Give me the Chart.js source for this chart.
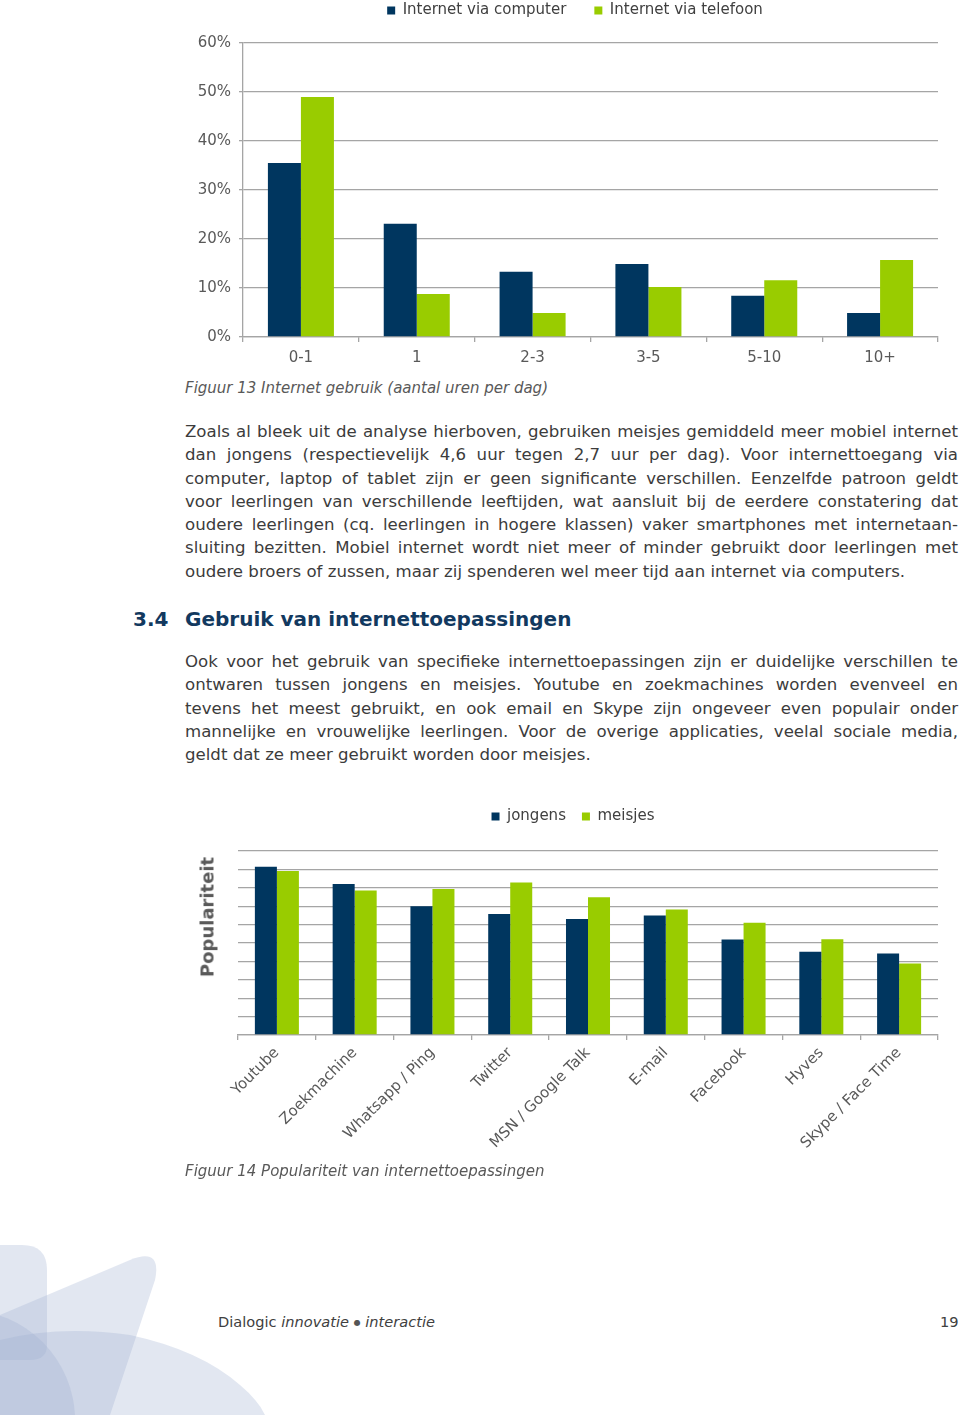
<!DOCTYPE html>
<html>
<head>
<meta charset="utf-8">
<script src="https://cdn.jsdelivr.net/npm/chart.js@4.4.0/dist/chart.umd.min.js"></script>
<style>
  body { margin: 0; background: #fff; }
  #page { position: relative; width: 960px; height: 1415px; overflow: hidden; font-family: "DejaVu Sans", Verdana, sans-serif; color: #3c3c3c; }
  .abs { position: absolute; }
  .para { position: absolute; left: 185px; width: 773px; font-size: 16.6px; line-height: 23.3px; }
  .para div { white-space: nowrap; text-align: justify; text-align-last: justify; }
  .para div.last { text-align-last: left; }
  .cap { position: absolute; left: 185px; font-size: 15px; font-style: italic; color: #595959; white-space: nowrap; }
  h2 { position: absolute; margin: 0; top: 607px; left: 133px; font-size: 20px; font-weight: bold; color: #12395f; white-space: nowrap; }
  h2 span { display: inline-block; width: 52px; }
  #yTitle { position: absolute; left: 207px; top: 917px; transform: translate(-50%, -50%) rotate(-90deg); font-size: 18px; font-weight: bold; color: #595959; white-space: nowrap; }
  .foot { position: absolute; top: 1313px; font-size: 14.6px; color: #404040; white-space: nowrap; }
</style>
</head>
<body>
<div id="page">
  <svg class="abs" style="left:0;top:1235px" width="280" height="180" viewBox="0 0 280 180">
    <g fill="#9fb0d0" fill-opacity="0.3">
      <path d="M0,10 L22,10 Q47,10 47,35 L47,110 Q47,125 30,125 L0,125 Z"/>
      <path d="M0,80 L130,25 Q162,12 155,45 L110,180 L0,180 Z"/>
      <path d="M0,105 Q60,90 130,100 Q200,115 240,150 Q258,165 265,180 L0,180 Z"/>
      <circle cx="-35" cy="185" r="110"/>
    </g>
  </svg>

  <div class="abs" style="left:184px;top:-25px;width:766px;height:398px">
    <canvas id="urenChart" width="766" height="398"></canvas>
  </div>
  <div class="cap" style="top:379px">Figuur 13 Internet gebruik (aantal uren per dag)</div>

  <div class="para" style="top:420px">
    <div>Zoals al bleek uit de analyse hierboven, gebruiken meisjes gemiddeld meer mobiel internet</div>
    <div>dan jongens (respectievelijk 4,6 uur tegen 2,7 uur per dag). Voor internettoegang via</div>
    <div>computer, laptop of tablet zijn er geen significante verschillen. Eenzelfde patroon geldt</div>
    <div>voor leerlingen van verschillende leeftijden, wat aansluit bij de eerdere constatering dat</div>
    <div>oudere leerlingen (cq. leerlingen in hogere klassen) vaker smartphones met internetaan-</div>
    <div>sluiting bezitten. Mobiel internet wordt niet meer of minder gebruikt door leerlingen met</div>
    <div class="last">oudere broers of zussen, maar zij spenderen wel meer tijd aan internet via computers.</div>
  </div>

  <h2><span>3.4</span>Gebruik van internettoepassingen</h2>

  <div class="para" style="top:650px">
    <div>Ook voor het gebruik van specifieke internettoepassingen zijn er duidelijke verschillen te</div>
    <div>ontwaren tussen jongens en meisjes. Youtube en zoekmachines worden evenveel en</div>
    <div>tevens het meest gebruikt, en ook email en Skype zijn ongeveer even populair onder</div>
    <div>mannelijke en vrouwelijke leerlingen. Voor de overige applicaties, veelal sociale media,</div>
    <div class="last">geldt dat ze meer gebruikt worden door meisjes.</div>
  </div>

  <div class="abs" style="left:184px;top:793px;width:766px;height:372px">
    <canvas id="appsChart" width="766" height="372"></canvas>
  </div>
  <div id="yTitle">Populariteit</div>
  <div class="cap" style="top:1162px">Figuur 14 Populariteit van internettoepassingen</div>

  <div class="foot" style="left:218px">Dialogic <i>innovatie</i> <span style="font-size:8px;vertical-align:2px;color:#555">●</span> <i>interactie</i></div>
  <div class="foot" style="left:940px">19</div>
</div>

<script>
const uurCategories = ['0-1', '1', '2-3', '3-5', '5-10', '10+'];
const viaComputer = [35.5, 23.1, 13.3, 14.9, 8.4, 4.9];
const viaTelefoon = [49.0, 8.8, 4.9, 10.2, 11.6, 15.7];

const apps = ['Youtube', 'Zoekmachine', 'Whatsapp / Ping', 'Twitter', 'MSN / Google Talk', 'E-mail', 'Facebook', 'Hyves', 'Skype / Face Time'];
const jongens = [9.15, 8.2, 7.0, 6.57, 6.3, 6.5, 5.19, 4.52, 4.43];
const meisjes = [8.91, 7.86, 7.93, 8.29, 7.48, 6.82, 6.1, 5.21, 3.88];

const blauw = '#00365f';
const groen = '#99cc00';
const gridKleur = '#a5a5a5';
const tekstKleur = '#595959';

Chart.defaults.font.family = '"DejaVu Sans", Verdana, sans-serif';
Chart.defaults.font.size = 15;
Chart.defaults.color = tekstKleur;
Chart.defaults.animation = false;

// legend height is forced so the plot area starts where the picture has it,
// and the legend is nudged sideways to sit over the plot like in the picture
function legendPlace(h, dx) {
    return {
        id: 'legendPlace',
        beforeInit(chart) {
            const fit = chart.legend.fit;
            chart.legend.fit = function () {
                fit.bind(chart.legend)();
                this.height = h;
            };
        },
        afterLayout(chart) {
            chart.legend.left += dx;
            chart.legend.right += dx;
        }
    };
}

new Chart(document.getElementById('urenChart'), {
    type: 'bar',
    data: {
        labels: uurCategories,
        datasets: [
            { label: 'Internet via computer', data: viaComputer, backgroundColor: blauw },
            { label: 'Internet via telefoon', data: viaTelefoon, backgroundColor: groen }
        ]
    },
    options: {
        responsive: false,
        layout: { padding: { left: 0, right: 12, top: 0, bottom: 0 } },
        datasets: { bar: { barPercentage: 1, categoryPercentage: 0.57 } },
        plugins: {
            legend: {
                labels: { boxWidth: 8, boxHeight: 8, padding: 28, color: '#404040' }
            },
            tooltip: { enabled: false }
        },
        scales: {
            x: {
                grid: { drawOnChartArea: false, offset: true, tickLength: 5, color: gridKleur, lineWidth: 1.3 },
                border: { color: gridKleur, width: 1.3 },
                ticks: { padding: 7, color: tekstKleur },
                afterFit(s) { s.height = 36; }
            },
            y: {
                min: 0, max: 60,
                ticks: { stepSize: 10, padding: 8, color: tekstKleur, callback: v => v + '%' },
                grid: { color: gridKleur, lineWidth: 1.3, tickLength: 4 },
                border: { color: gridKleur, width: 1.3 },
                afterFit(s) { s.width = 59; }
            }
        }
    },
    plugins: [legendPlace(68, 14)]
});

new Chart(document.getElementById('appsChart'), {
    type: 'bar',
    data: {
        labels: apps,
        datasets: [
            { label: 'jongens', data: jongens, backgroundColor: blauw },
            { label: 'meisjes', data: meisjes, backgroundColor: groen }
        ]
    },
    options: {
        responsive: false,
        layout: { padding: { left: 0, right: 12, top: 0, bottom: 0 } },
        datasets: { bar: { barPercentage: 1, categoryPercentage: 0.566 } },
        plugins: {
            legend: {
                labels: { boxWidth: 8, boxHeight: 8, padding: 16, color: '#404040' }
            },
            tooltip: { enabled: false }
        },
        scales: {
            x: {
                grid: { drawOnChartArea: false, offset: true, tickLength: 5, color: gridKleur, lineWidth: 1.3 },
                border: { color: gridKleur, width: 1.3 },
                ticks: { padding: 4, color: tekstKleur, minRotation: 45, maxRotation: 45, autoSkip: false },
                afterFit(s) { s.height = 130; }
            },
            y: {
                min: 0, max: 10,
                ticks: { stepSize: 1, display: false },
                grid: { color: gridKleur, lineWidth: 1.3, drawTicks: false },
                border: { display: false },
                afterFit(s) { s.width = 54; }
            }
        }
    },
    plugins: [legendPlace(58, 12)]
});
</script>
</body>
</html>
